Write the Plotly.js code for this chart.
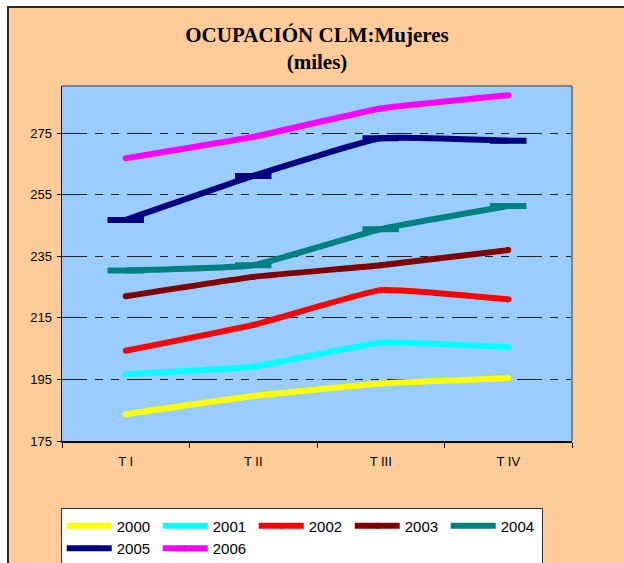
<!DOCTYPE html>
<html>
<head>
<meta charset="utf-8">
<script src="https://cdn.plot.ly/plotly-3.0.1.min.js"></script>
<style>
  html, body { margin:0; padding:0; background:#ffffff; width:624px; height:563px; overflow:hidden; }
  #frame { position:absolute; left:7px; top:6px; width:640px; height:600px; border-left:2px solid #2b2b2b; border-top:2px solid #2b2b2b; background:#FFCC99; }
  #chart { position:absolute; left:0px; top:0px; width:615px; height:555px; }
</style>
</head>
<body>
<div id="frame"><div id="chart"></div></div>
<script>
// ---- data ----
const quarters = ["T I", "T II", "T III", "T IV"];
const years = ["2000", "2001", "2002", "2003", "2004", "2005", "2006"];
const v2000 = [183.7, 189.6, 193.7, 195.4];
const v2001 = [196.7, 199.1, 206.9, 205.5];
const v2002 = [204.3, 212.7, 224.0, 221.0];
const v2003 = [222.0, 228.3, 232.1, 237.0];
const v2004 = [230.4, 232.1, 243.8, 251.3];
const v2005 = [246.8, 261.1, 273.3, 272.5];
const v2006 = [266.8, 273.8, 283.0, 287.3];
const yTicks = [175, 195, 215, 235, 255, 275];

// ---- styling ----
const seriesValues = [v2000, v2001, v2002, v2003, v2004, v2005, v2006];
const colors = ["#FFFF00", "#00FFFF", "#FF0000", "#800000", "#008080", "#000080", "#FF00FF"];
const dashMarker = [false, false, false, false, true, true, false];

const traces = years.map((yr, i) => {
  const marker = dashMarker[i]
    ? {symbol: "line-ew", size: 26, color: colors[i], line: {width: 6, color: colors[i]}}
    : {symbol: "circle", size: 6, color: colors[i], line: {width: 0}};
  return {
    type: "scatter",
    mode: "lines+markers",
    name: yr,
    x: quarters,
    y: seriesValues[i],
    line: {color: colors[i], width: 6, shape: "spline", smoothing: 0.35},
    marker: marker,
    hoverinfo: "x+y+name"
  };
});

const layout = {
  width: 615,
  height: 555,
  paper_bgcolor: "#FFCC99",
  plot_bgcolor: "#99CCFF",
  margin: {l: 53, r: 52, t: 78, b: 122, autoexpand: false},
  showlegend: true,
  title: {
    text: "<b>OCUPACIÓN CLM:Mujeres<br>(miles)</b>",
    font: {family: "Liberation Serif, Times New Roman, serif", size: 21, color: "#000000"},
    x: 0.5, xref: "paper", xanchor: "center",
    y: 0.939, yref: "container", yanchor: "top"
  },
  xaxis: {
    type: "category",
    range: [-0.5, 3.5],
    showgrid: false,
    showline: true, linecolor: "#000000", linewidth: 1.5,
    ticks: "outside", ticklen: 5, tickcolor: "#000000", tickwidth: 1,
    tickson: "boundaries",
    ticklabelstandoff: 8,
    tickfont: {family: "Liberation Sans, Arial, sans-serif", size: 13, color: "#000000"},
    zeroline: false, fixedrange: true
  },
  yaxis: {
    range: [175, 290.3],
    tickvals: yTicks,
    ticktext: yTicks.map(String),
    showgrid: true, gridcolor: "#222222", gridwidth: 1,
    griddash: "25px,8px,8px,8px,8px,8px",
    showline: true, linecolor: "#000000", linewidth: 1.5,
    ticks: "outside", ticklen: 4, tickcolor: "#000000", tickwidth: 1,
    ticklabelstandoff: 2,
    tickfont: {family: "Liberation Sans, Arial, sans-serif", size: 13, color: "#000000"},
    zeroline: false, fixedrange: true
  },
  shapes: [
    {type: "line", xref: "paper", yref: "paper", x0: 0, x1: 1, y0: 1, y1: 1, line: {color: "#808080", width: 2}},
    {type: "line", xref: "paper", yref: "paper", x0: 1, x1: 1, y0: 0, y1: 1, line: {color: "#808080", width: 2}}
  ],
  legend: {
    orientation: "h",
    x: -0.0025, xanchor: "left",
    y: -0.19, yanchor: "top",
    bgcolor: "#FFFFFF",
    bordercolor: "#333333", borderwidth: 1,
    itemwidth: 45,
    entrywidth: 36, entrywidthmode: "pixels",
    font: {family: "Liberation Sans, Arial, sans-serif", size: 15, color: "#000000"},
    traceorder: "normal"
  }
};

Plotly.newPlot("chart", traces, layout, {displayModeBar: false, staticPlot: true});
</script>
</body>
</html>
